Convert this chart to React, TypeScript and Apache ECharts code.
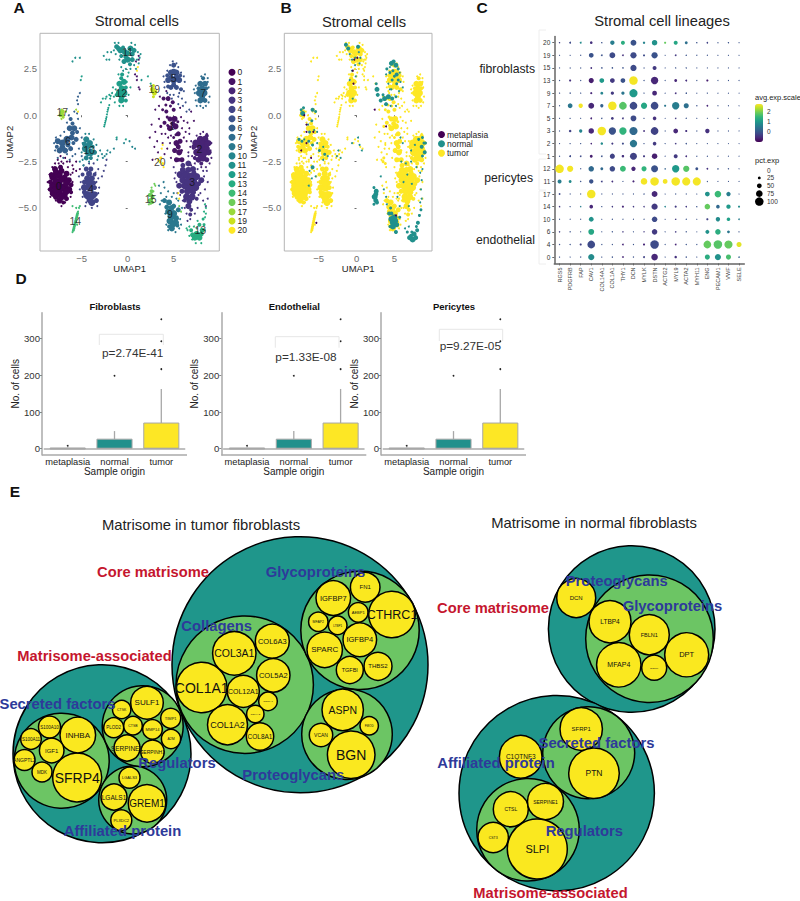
import React, { useEffect, useRef } from "react";
import * as echarts from "echarts";

type P = number[];
const FONT = "'Liberation Sans', Arial, sans-serif";

// ---------- Panels A / B: UMAP coordinates, [umap1, umap2, dotSize?]
const clusterNames = ["0","1","2","3","4","5","6","7","9","10","11","12","13","14","15","17","19","20"];
const clusterColors = ["#440154","#471365","#482475","#463480","#414487","#3B528B","#35608D","#2F6C8E","#2A788E","#25858E","#21918C","#1F9E89","#27AD81","#3EBC74","#6DCD59","#9AD93C","#CBE11E","#FDE725"];
const c0: P[] = [[-8.1,-3.3,8],[-8.1,-3.8,8],[-8.1,-4.2,7],[-7.5,-3.2,8],[-7.5,-3.7,8],[-7.5,-4.2,8],[-7.4,-4.6,6],[-6.9,-3.4,7],[-6.9,-3.9,8],[-6.9,-4.3,7],[-6.4,-3.5,6],[-6.4,-4.0,7],[-7.9,-2.9,6],[-7.3,-2.8,5],[-7.8,-3.05,6],[-7.8,-3.55,7],[-7.8,-4.0,7],[-7.8,-4.4,6],[-7.2,-3.0,6],[-7.2,-3.45,7],[-7.2,-3.95,7],[-7.2,-4.4,7],[-6.65,-3.15,6],[-6.65,-3.65,7],[-6.65,-4.1,7],[-6.65,-4.5,5],[-8.4,-3.6,5],[-8.4,-4.0,5],[-6.15,-3.75,5],[-6.15,-4.15,4],[-7.0,-4.7,4],[-8.3,-3.2,5],[-8.7,-3.6],[-8.6,-4.0],[-8.5,-3.2],[-8.4,-4.4],[-8.2,-2.8],[-7.8,-4.6],[-7.2,-4.9],[-6.8,-4.7],[-6.2,-4.4],[-6.0,-3.6],[-6.0,-3.1],[-6.5,-2.8],[-7.0,-2.6],[-7.6,-2.4],[-7.9,-2.6],[-6.8,-2.3],[-6.0,-2.7],[-5.6,-3.0],[-5.2,-2.9],[-5.6,-2.5],[-7.3,-2.2],[-6.2,-3.2],[-6.6,-2.5],[-7.2,-2.5],[-5.9,-2.9],[-7.5,-2.6],[-6.3,-2.5]];
const c1: P[] = [[3.9,0.9,4],[4.4,0.9,5],[4.9,0.7,4],[3.8,0.3,3],[4.2,0.2,4],[5.0,0.3,4],[4.6,-0.2,5],[5.1,-0.2,6],[4.0,-0.4,4],[3.6,-0.6,3],[4.6,-0.7,6],[5.2,-0.6,6],[5.5,-1.0,5],[5.0,-1.2,3],[5.3,-1.5,6],[5.7,-1.4,5],[5.1,-1.9,5],[5.6,-2.0,6],[5.3,-2.4,5],[5.9,-2.4,5],[4.15,0.55,3],[4.65,0.5,3],[4.3,-0.1,3],[4.9,-0.45,5],[4.35,-0.55,3],[5.45,-0.35,3],[5.5,-1.7,5],[5.25,-1.05,3],[5.85,-1.9,3],[5.55,-2.4,4],[3.0,0.3],[3.4,-0.2],[2.6,-0.5],[3.0,-0.9],[3.2,-1.4],[2.9,-1.7],[3.8,-1.5],[4.3,-1.8],[4.4,-1.2],[6.1,-0.3],[5.9,-0.7],[6.3,-0.9],[6.5,-0.4],[5.7,0.4],[1.3,1.4],[1.0,1.9],[1.2,1.5],[0.8,2.2],[7.2,-0.3],[6.9,0.2],[4.2,1.3],[3.5,1.0],[3.4,0.5],[3.7,-1.0],[4.1,-1.0],[4.6,-1.5],[4.7,-1.1],[3.3,-2.0],[4.0,-2.1],[4.7,-2.3],[6.1,-1.2],[6.4,-1.4],[6.7,-0.7],[5.8,-0.1],[2.4,-1.2],[2.7,-2.4],[1.2,3.2],[0.9,2.9],[1.2,3.0],[1.0,2.1]];
const c2: P[] = [[7.4,-1.5,7],[7.9,-1.3,7],[8.4,-1.3,7],[8.8,-1.5,6],[7.5,-2.0,7],[8.0,-1.8,8],[8.5,-1.8,8],[8.8,-2.0,6],[7.7,-2.4,6],[8.2,-2.3,7],[8.6,-2.4,5],[7.2,-1.7,5],[7.7,-1.6,7],[8.2,-1.55,7],[8.6,-1.55,6],[7.9,-2.1,7],[8.3,-2.05,7],[7.3,-2.3,4],[8.6,-1.1,4],[8.0,-2.6,4],[6.9,-1.4],[7.1,-1.8],[7.0,-2.2],[7.3,-2.6],[8.0,-2.8],[8.5,-2.8],[9.0,-1.9],[9.1,-1.5],[8.6,-1.0],[8.2,-0.9],[7.5,-1.1],[6.7,-1.0],[6.6,-2.0],[9.1,-2.3],[6.9,-2.7],[7.9,-1.0],[6.8,-1.7],[8.9,-2.6]];
const c3: P[] = [[6.0,-2.7,5],[6.6,-2.6,6],[7.1,-2.9,6],[5.7,-3.2,7],[6.3,-3.2,8],[6.9,-3.3,8],[7.5,-3.3,7],[8.0,-3.5,6],[5.6,-3.8,6],[6.2,-3.8,7],[6.8,-3.9,8],[7.4,-3.9,7],[6.4,-4.4,7],[7.0,-4.4,7],[6.6,-4.9,6],[7.5,-4.5,4],[6.9,-5.1,4],[6.0,-2.95,6],[6.6,-2.95,6],[6.0,-3.5,7],[6.6,-3.55,8],[7.2,-3.6,7],[5.9,-4.1,5],[6.5,-4.1,7],[7.1,-4.15,6],[6.7,-4.65,6],[6.2,-4.6,4],[7.7,-3.7,5],[6.8,-5.35,4],[7.2,-3.1,5],[5.2,-3.1],[5.3,-3.6],[5.7,-4.3],[6.0,-4.6],[6.8,-5.6],[7.6,-5.0],[7.9,-4.2],[8.3,-3.3],[8.4,-4.0],[8.6,-3.0],[8.7,-4.5],[8.5,-4.9],[5.0,-2.8],[7.6,-2.9],[6.6,-2.2],[6.2,-5.0],[5.4,-4.2],[5.1,-3.4],[8.2,-3.0],[8.2,-4.6],[7.3,-5.3],[6.4,-5.3],[8.7,-3.6],[7.7,-4.3],[6.5,-5.7]];
const c4: P[] = [[-4.5,-2.9,5],[-4.0,-2.9,5],[-4.4,-3.4,6],[-3.9,-3.4,6],[-4.7,-3.9,7],[-4.1,-3.9,8],[-3.6,-3.9,5],[-4.4,-4.3,8],[-3.8,-4.3,8],[-3.9,-4.7,7],[-3.4,-4.6,5],[-4.2,-3.15,6],[-4.7,-3.6,5],[-4.2,-3.65,7],[-3.7,-3.65,5],[-4.7,-4.15,5],[-4.1,-4.55,7],[-3.5,-4.25,5],[-4.9,-3.2,4],[-3.6,-3.2,4],[-5.1,-3.6],[-5.2,-4.0],[-4.9,-4.4],[-4.5,-4.7],[-3.9,-5.0],[-3.3,-4.9],[-3.2,-4.2],[-3.4,-3.6],[-3.5,-3.1],[-4.8,-2.7],[-3.7,-2.6],[-2.6,-3.0],[-2.4,-2.7],[-2.3,-2.4],[-2.8,-3.3],[-5.3,-3.3],[-3.2,-3.4],[-4.2,-2.6],[-3.2,-2.9],[-3.1,-3.9],[-4.6,-4.9]];
const c5: P[] = [[5.0,2.7,5],[4.7,2.3,6],[5.3,2.3,6],[4.4,1.9,6],[5.0,1.9,7],[5.6,1.9,6],[4.7,1.5,5],[5.3,1.5,5],[5.8,1.4,4],[5.0,2.35,6],[4.7,2.05,5],[5.3,2.05,6],[5.0,1.65,5],[4.3,2.15,4],[5.7,2.15,4],[4.4,1.55,4],[4.9,2.9],[5.3,2.8],[4.3,2.4],[5.8,2.3],[3.9,2.1],[6.2,1.8],[6.1,1.3],[4.0,1.5],[4.3,1.2],[5.0,1.1],[5.5,1.0],[5.9,0.9],[6.3,0.7],[5.5,0.6],[4.8,0.9],[6.7,0.3],[4.6,2.7],[5.5,2.6],[6.1,2.1],[4.0,1.8],[4.6,1.1],[5.6,1.2],[6.0,0.5],[6.4,0.2]];
const c6: P[] = [[-7.6,-1.4,6],[-7.1,-1.5,7],[-6.6,-1.3,7],[-6.1,-1.2,6],[-7.4,-1.9,6],[-6.8,-1.9,6],[-6.2,-1.8,5],[-6.3,-0.7,6],[-5.8,-0.7,6],[-6.2,-0.2,4],[-5.6,-1.3,5],[-7.1,-1.75,6],[-6.5,-1.6,5],[-5.9,-1.5,4],[-6.0,-0.95,5],[-6.0,-0.45,4],[-7.7,-1.7,4],[-5.5,-0.9,4],[-8.0,-1.5],[-7.9,-1.9],[-7.6,-2.3],[-7.0,-2.3],[-6.3,-2.4],[-7.3,-1.1],[-6.9,-0.9],[-5.4,-0.2],[-5.2,-0.7],[-5.3,-1.8],[-5.0,-2.2],[-5.7,-2.1],[-5.5,0.8],[-5.2,1.2],[-6.6,-0.4],[-5.8,0.2],[-5.5,0.1],[-6.6,-2.1],[-6.0,-2.2],[-7.8,-1.2],[-6.4,0.0],[-5.0,-1.2],[-5.4,1.0],[-5.4,0.6]];
const c7: P[] = [[8.2,2.0,4],[7.9,1.7,6],[8.4,1.7,6],[7.8,1.2,7],[8.3,1.2,7],[7.9,0.8,6],[8.4,0.8,5],[8.1,1.45,6],[8.1,1.0,6],[7.7,1.45,4],[8.55,1.45,4],[7.4,1.6],[7.3,1.2],[7.4,0.8],[8.8,1.5],[8.9,1.0],[8.7,2.0],[8.4,2.2],[8.0,2.1],[8.5,0.5],[7.9,0.5],[7.5,0.5],[7.2,1.4],[8.8,0.7],[8.2,0.4],[8.7,1.8]];
const c9: P[] = [[4.0,-4.6,5],[4.5,-4.7,6],[5.0,-4.9,5],[4.4,-5.2,6],[5.0,-5.3,7],[5.5,-5.1,5],[4.6,-5.7,7],[5.2,-5.8,7],[4.8,-6.1,6],[4.25,-4.95,5],[4.75,-5.0,6],[4.7,-5.45,7],[5.25,-5.55,6],[4.9,-5.9,6],[4.5,-6.0,4],[5.4,-5.95,4],[3.7,-4.6],[3.6,-4.2],[4.0,-3.9],[4.4,-4.1],[3.9,-3.6],[5.0,-4.2],[5.5,-4.6],[5.7,-5.6],[4.2,-5.9],[4.4,-6.2],[5.2,-6.3],[5.6,-6.1],[3.4,-3.8],[4.1,-5.3],[4.8,-4.4],[5.3,-4.5],[5.9,-5.0],[3.5,-4.8],[4.2,-4.4],[5.8,-5.9]];
const c10: P[] = [[-4.5,-1.3,6],[-4.1,-1.5,6],[-4.6,-1.8,7],[-4.0,-2.0,7],[-3.6,-2.0,5],[-4.5,-2.3,5],[-4.3,-1.65,6],[-4.3,-2.05,6],[-4.7,-1.55,5],[-3.8,-1.7,4],[-4.0,-2.3,4],[-4.9,-1.5],[-5.0,-2.0],[-4.2,-1.0],[-4.6,-1.0],[-3.4,-1.6],[-3.2,-2.2],[-2.8,-2.1],[-2.5,-2.2],[-2.2,-1.9],[-1.9,-2.0],[-1.5,-1.8],[-2.3,-2.1],[-4.8,-2.7],[-5.2,-2.5],[-4.2,-2.5],[-3.0,-1.9],[-1.2,-1.3],[0.2,-1.4],[-3.3,-2.4],[-4.9,-2.4],[-3.7,-1.3],[-2.7,-2.3],[-0.4,-1.5],[0.5,-1.7],[0.8,-1.8]];
const c11: P[] = [[-1.2,3.7,5],[-0.8,3.5,6],[-0.3,3.4,6],[0.3,3.6,6],[0.7,3.5,5],[0.0,3.0,6],[-0.4,2.9,5],[0.5,3.0,5],[-1.0,3.6,5],[-0.5,3.65,4],[0.0,3.35,5],[0.5,3.3,5],[-0.7,3.2,4],[-0.2,3.15,5],[0.25,2.75,4],[-1.4,3.9],[-1.5,3.5],[-1.0,3.9],[0.4,3.9],[0.8,3.8],[1.1,3.4],[1.4,3.3],[1.0,3.0],[-0.9,3.0],[0.3,2.5],[-0.2,2.5],[-2.6,3.2],[-2.3,3.0],[-2.0,3.0],[-1.8,3.4],[1.2,2.8],[0.9,2.5],[1.5,1.9],[-5.2,3.1],[-5.7,3.1],[-6.0,2.9],[-1.3,3.3],[-0.7,2.6],[-2.2,3.4],[1.3,3.1],[0.7,2.7],[-0.5,2.4]];
const c12: P[] = [[-0.6,2.2,4],[-0.4,1.8,6],[-0.9,1.7,6],[-0.9,1.2,7],[-0.4,1.2,7],[-0.7,0.8,6],[-0.2,0.8,4],[-0.65,1.45,6],[-0.2,1.5,4],[-0.65,1.0,6],[-0.7,2.0,4],[-1.2,1.1,4],[-0.1,1.8],[0.1,2.3],[-1.3,1.4],[-1.5,1.0],[-1.4,0.7],[0.1,1.1],[0.3,1.5],[-0.9,0.5],[-0.5,0.5],[-2.0,1.1],[-2.3,1.0],[-2.7,0.9],[-2.9,0.7],[-2.2,0.2],[-2.3,-0.1],[-2.4,-0.3],[-2.5,-0.5],[-2.1,0.4],[-1.7,1.2],[2.2,2.1],[2.5,1.7],[-5.1,1.9],[-5.0,2.1],[-1.2,-1.2],[-0.2,-1.3],[-2.4,0.9],[-2.15,0.3],[-2.25,0.05],[-2.35,-0.2],[-2.45,-0.4],[-1.0,2.2],[0.0,2.1],[-1.6,1.5],[-1.9,0.9],[-2.0,0.55],[-1.85,1.05],[-2.55,-0.6]];
const c13: P[] = [[6.9,-6.2,4],[7.3,-6.6,6],[7.8,-6.6,6],[8.1,-6.2,5],[7.8,-5.9,4],[8.2,-5.6,3],[7.5,-6.4,6],[7.05,-6.45,5],[8.0,-6.4,5],[8.3,-5.9,3],[6.5,-6.2],[6.7,-6.5],[7.0,-6.7],[8.3,-5.2],[8.4,-5.5],[8.5,-5.0],[8.4,-6.2],[7.4,-6.9],[8.0,-6.9],[7.5,-6.1],[8.4,-4.8],[6.4,-6.1],[6.7,-6.0],[7.2,-6.0],[7.6,-5.7],[8.5,-5.3]];
const c14: P[] = [[-5.3,-5.0],[-5.4,-5.2],[-5.5,-5.4,3],[-5.6,-5.6,3],[-5.7,-5.8,3],[-5.8,-6.0,3],[-5.9,-6.2,3],[-6.0,-6.3],[-6.0,-4.9],[-5.6,-5.0],[-5.5,-5.9],[-5.45,-5.3,3],[-5.55,-5.5,3],[-5.65,-5.7,3],[-5.75,-5.9,3],[-5.85,-6.1,3],[-5.2,-4.9]];
const c15: P[] = [[2.6,-3.9],[2.6,-4.1,4],[2.4,-4.3,4],[2.7,-4.4,4],[2.4,-4.6,4],[2.7,-4.7,3],[2.9,-3.7],[3.0,-3.8],[2.3,-4.8],[2.8,-4.1],[2.55,-4.3,4],[2.55,-4.55,4],[2.5,-4.75,3],[5.6,-4.9],[5.8,-5.2]];
const c17: P[] = [[-7.1,0.2,5],[-7.3,0.0,4],[-7.0,-0.1,3],[-7.2,-0.2],[-6.7,0.2],[-7.2,0.3],[-7.1,0.0,4],[-7.2,0.15,4],[-5.6,0.3]];
const c19: P[] = [[2.8,1.6,3],[2.7,1.4,5],[2.9,1.2,5],[2.8,1.0,3],[3.1,1.3],[2.8,1.3,5]];
const c20: P[] = [[3.3,-2.4],[3.6,-2.3,3],[3.8,-2.6,3],[3.7,-1.8],[3.8,-1.6],[1.1,2.6],[1.0,2.4],[5.5,-4.2],[5.6,-4.5],[-5.4,0.2],[3.5,-2.5,3],[3.9,-2.8]];
const clusterPoints: P[][] = [c0,c1,c2,c3,c4,c5,c6,c7,c9,c10,c11,c12,c13,c14,c15,c17,c19,c20];
const clusterLabels: [string, number, number][] = [["0",-7.5,-3.8],["1",4.8,-0.6],["2",7.8,-1.8],["3",7.0,-3.6],["4",-4.0,-4.0],["5",5.0,2.0],["6",-6.5,-1.4],["7",8.2,1.2],["9",4.6,-5.3],["10",-4.2,-1.9],["11",0.0,3.4],["12",-0.7,1.2],["13",7.9,-6.2],["14",-5.7,-5.7],["15",2.5,-4.5],["17",-7.1,0.15],["19",2.9,1.4],["20",3.5,-2.5]];
const originNames = ["metaplasia","normal","tumor"];
const originColors = ["#440154","#21908C","#FDE725"];
const tumorOnlyExcluded = ["13","15","19"];
const normalPoints: P[] = [[-1.4,3.8,4],[-1.1,3.6,4],[-0.9,3.3],[-0.6,3.0],[-0.2,3.1],[0.2,3.7,4],[0.3,3.4],[0.5,3.1],[-0.2,2.7],[0.4,2.8],[-0.6,2.4],[-0.1,2.1],[-0.9,1.9],[-0.5,0.9],[3.9,2.2],[4.0,2.5,3],[4.6,2.8,5],[5.2,2.7,5],[4.9,2.9,4],[4.4,2.3,3],[5.3,2.2,4],[5.7,2.3],[4.7,1.9,3],[5.3,1.7,3],[5.8,1.8],[4.2,1.7],[4.6,1.4],[5.6,1.3],[6.1,1.5],[4.8,2.4,3],[5.0,2.1,3],[4.4,2.6],[5.5,2.5,3],[5.5,1.9,3],[4.4,1.4],[3.2,0.8,4],[3.7,0.9,5],[4.2,1.0,5],[4.7,0.9,4],[5.2,1.0,3],[3.9,0.6,4],[4.5,0.5],[5.2,0.5],[3.5,1.1,3],[2.6,1.7,3],[2.7,1.4,5],[2.8,1.1,4],[-7.3,0.3,3],[-7.1,0.1,5],[-7.0,0.4,3],[-5.8,0.3,4],[-5.4,0.2,3],[-6.4,-0.5],[-5.9,-0.3,3],[-6.2,-0.9,3],[-5.6,-0.8],[-5.2,-0.9],[-7.6,-1.3,3],[-7.2,-1.4,3],[-6.9,-1.3],[-6.3,-1.4,3],[-5.8,-1.6,3],[-5.2,-1.5],[-4.9,-1.9,3],[-4.4,-1.7],[-4.2,-2.1,3],[-3.8,-2.2],[-4.4,-2.4],[-5.8,-2.8,4],[-6.2,-3.0],[-5.4,-3.3],[-5.9,-3.4],[-6.3,-3.8],[-2.6,-2.2],[-2.4,-1.9],[-2.1,-2.3],[-0.6,-1.5],[0.2,-1.2],[0.4,-1.6],[0.7,-1.9],[8.2,-1.3,3],[8.7,-1.2,3],[9.1,-1.5,3],[8.6,-1.7,4],[9.0,-2.0,4],[8.7,-2.2,3],[8.9,-1.5,3],[7.7,-1.6],[7.2,-1.9],[6.5,-2.6],[7.2,-2.5],[6.1,-1.5],[5.9,-2.5],[2.3,-3.9,3],[2.6,-4.1,5],[2.4,-4.4,6],[2.7,-4.7,4],[2.3,-4.8,3],[2.55,-4.25,5],[2.55,-4.6,5],[3.6,-4.0],[3.2,-3.3],[4.5,-5.0,3],[4.0,-4.8],[4.3,-5.3,4],[4.6,-5.6,6],[5.0,-5.5,6],[5.3,-5.9,5],[4.8,-6.0,6],[5.2,-6.3,4],[4.4,-6.0,3],[5.7,-5.5,3],[5.7,-4.9],[5.4,-4.4],[4.8,-5.8,6],[5.1,-5.7,6],[4.6,-5.3,4],[3.9,-4.4],[7.0,-6.6,5],[7.4,-6.7,6],[7.8,-6.6,5],[8.0,-6.2,4],[8.1,-5.8,4],[8.3,-5.4,3],[8.5,-5.1,3],[7.6,-6.4,5],[7.2,-6.5,4],[7.9,-6.0,3],[6.7,-6.3,3],[6.9,-6.0],[7.3,-6.3,3],[6.4,-6.1],[8.4,-3.1],[8.6,-3.5],[8.5,-4.0],[8.6,-4.5],[8.4,-4.7],[8.7,-2.9],[7.9,-2.8],[7.3,-3.7],[6.7,-3.2],[6.2,-3.6],[5.8,-1.2],[6.9,-4.9]];
const metaplasiaPoints: P[] = [[-6.9,0.0],[-6.6,-0.5],[-6.6,-0.9],[-5.7,-0.9],[-7.3,-1.9],[-6.0,-2.3],[-6.6,-1.5],[-5.3,-5.8],[-0.3,3.0],[0.1,3.1],[-0.5,2.4],[-0.4,1.7],[2.4,0.3],[3.9,-0.6],[5.2,-5.4]];

// ---------- Panel C
const dotGenes = ["RGS5","PDGFRB","FAP","CAV1","COL14A1","COL1A1","THY1","DCN","MYLK","DSTN","ACTG2","MYL9","ACTA2","MYH11","ENG","PECAM1","VWF","SELE"];
const dotClusters = ["20","19","15","13","9","7","5","3","2","1","12","11","17","14","10","6","4","0"];
const dotPct: number[][] = [
 [5,12,12,22,5,45,40,65,18,60,15,40,25,5,8,3,5,2],
 [2,2,3,50,10,65,10,70,15,70,1,10,5,3,3,2,2,1],
 [2,3,3,10,8,8,7,70,3,40,1,4,4,2,2,2,2,1],
 [3,15,3,55,50,50,50,100,4,85,2,25,12,3,15,2,2,2],
 [3,5,3,15,25,30,30,95,3,50,2,10,7,2,3,2,2,1],
 [2,50,45,65,30,100,90,90,70,90,15,85,55,5,10,2,2,1],
 [2,3,2,10,5,25,10,65,3,35,1,7,4,2,2,2,1,1],
 [2,20,30,60,100,85,85,95,10,90,2,50,15,3,45,2,2,1],
 [2,3,3,8,20,15,15,85,3,35,2,8,6,2,2,2,1,1],
 [3,12,8,25,8,55,20,80,15,60,2,40,10,3,3,2,2,1],
 [100,70,3,60,25,60,65,45,55,80,6,85,70,25,10,6,4,1],
 [40,25,5,45,10,10,2,15,75,100,50,100,95,95,3,1,1,1],
 [10,2,2,100,2,2,2,2,5,65,1,3,2,1,50,75,45,1],
 [6,3,5,35,3,7,15,7,6,70,8,15,8,4,60,35,45,15],
 [2,2,2,50,1,4,2,2,3,60,1,6,4,1,15,45,35,8],
 [5,4,2,65,2,4,5,2,4,60,2,7,4,1,40,60,25,3],
 [4,5,15,90,4,3,10,3,15,100,2,10,5,3,90,100,95,55],
 [3,2,4,70,3,5,10,4,12,75,2,20,5,2,55,70,55,8],
];
const dotExp: number[][] = [
 [-.2,-.1,.8,-.4,0,.6,1.3,0,.7,.9,1.8,1.2,.4,0,-.2,0,0,0],
 [0,0,0,0,0,-.1,-.4,-.1,-.1,0,0,-.3,0,0,0,0,0,0],
 [0,0,0,-.4,0,0,0,-.1,0,-.3,0,0,0,0,0,0,0,0],
 [0,-.4,0,-.6,1,-.3,0,2.6,0,-.5,0,-.5,-.4,0,-.6,0,0,0],
 [0,0,0,-.5,.7,-.3,.5,1,0,-.5,0,-.4,0,0,0,0,0,0],
 [0,.5,2.6,-.5,.2,2.6,1.7,-.1,1.2,-.1,.5,.6,.4,0,-.5,0,0,0],
 [0,0,0,-.5,0,-.3,-.3,-.1,0,-.4,0,-.3,0,0,0,0,0,0],
 [0,-.2,.7,-.5,2.6,0,1.4,.3,-.4,-.2,0,-.5,-.4,0,-.4,0,0,0],
 [0,0,0,-.5,.8,-.3,-.1,.5,0,-.3,0,-.3,0,0,0,0,0,0],
 [0,-.1,-.1,-.6,0,-.2,-.4,-.2,-.3,-.6,0,-.3,-.4,0,0,0,0,0],
 [2.6,2.6,0,.3,.3,-.1,1.5,-.5,1.4,0,.2,1,1.7,0,-.4,0,0,0],
 [.6,.8,0,0,-.2,-.4,0,-.5,2.6,2.6,2.6,2.6,2.6,2.6,0,0,0,0],
 [-.1,0,0,2.6,0,0,0,0,0,-.5,0,0,0,0,.9,1.5,.6,0],
 [-.3,0,.6,-.5,0,-.3,-.5,-.3,-.3,-.3,.7,-.3,-.3,0,1.8,.3,1,.8],
 [0,0,0,.9,0,0,0,0,0,-.1,0,-.3,0,0,-.2,.8,1.1,.6],
 [-.2,0,0,1.2,0,0,-.3,0,-.3,-.3,0,-.3,0,0,.9,1.3,.5,0],
 [0,0,-.2,-.1,0,0,-.5,0,-.5,-.1,0,-.5,0,0,1.8,1.7,1.8,2.5],
 [0,0,0,.8,0,0,-.5,0,-.2,-.5,0,-.4,0,0,1.3,.9,1.6,.2],
];
const viridis = ["#440154","#482878","#3E4A89","#31688E","#26828E","#1F9E89","#35B779","#6DCD59","#B4DE2C","#FDE725"];
const pctLegend = [0,25,50,75,100];

// ---------- Panel D: [low whisker, q1, median, q3, high whisker]
const sampleOrigins = ["metaplasia","normal","tumor"];
const boxColors = ["#9a9a9a","#21908C","#FDE725"];
const fibroblastBoxes = [[0,0,0,2,3],[0,1,1,26,48],[0,1,1,70,163]];
const endothelialBoxes = [[0,0,0,2,3],[0,1,1,26,48],[0,1,1,70,163]];
const pericyteBoxes = [[0,0,0,2,3],[0,1,1,26,48],[0,1,1,70,163]];
const boxOutliers = [[0,8],[1,199],[2,217],[2,293],[2,353]];
const boxTitles = ["Fibroblasts","Endothelial","Pericytes"];
const boxPvalues = ["p=2.74E-41","p=1.33E-08","p=9.27E-05"];

// ---------- Panel E: circle packs, [name, x, y, radius] on the panel's own scale
type C = [string, number, number, number];
const packOuter: C[] = [["tumor core",300,664.7,128],["tumor associated",102,753.7,89],["normal core",631.7,629,83.3],["normal associated",556.7,793.2,97.7]];
const packGroups: C[] = [["Collagens",244.7,684.7,68.7],["Glycoproteins",360,630.3,59.2],["Proteoglycans",347,734.2,45.3],["Secreted factors",61.7,760.8,47.5],["Regulators",142.7,726.3,40.5],["Affiliated protein",132.7,800,34],["Glycoproteins",649.5,638.7,63.8],["Secreted factors",588.7,752.8,46],["Regulators",528,829.8,51.3]];
const packGenes: C[] = [
 ["COL1A1",201.7,687.5,25.3],["COL3A1",234.3,653.3,21.7],["COL6A3",272.3,641.2,17],["COL5A2",273.3,675.3,16.7],["COL12A1",243.3,691.3,16],["COL5A1",268,701.3,9.3],["COL4A2",255.3,714,8.7],["COL1A2",227.5,724.7,20],["COL8A1",260,736.5,13.7],
 ["IGFBP7",333.3,598,17.3],["FN1",365.2,587.3,14.8],["CTHRC1",392,614.5,23.3],["AEBP1",358.2,612.3,9.8],["MFAP2",318.3,621.7,9.7],["LTBP1",337.7,625.3,9.3],["IGFBP4",359.8,639.8,16.8],["SPARC",324.7,649.8,17.7],["TGFBI",349.8,670,13.5],["THBS2",378,666.3,14],
 ["ASPN",342.7,709.8,20.7],["FMOD",369.2,725.8,9.2],["VCAN",321,735,11.7],["BGN",351.2,754.7,23.8],
 ["SFRP4",77.2,777.5,24.5],["INHBA",77.8,735,17.8],["IGF1",51.7,750.5,12.3],["S100A10",49.5,727,11],["S100A11",31,739,10.3],["ANGPTL2",24.5,760,10.5],["MDK",42,772,10],
 ["SULF1",147,702.7,16.3],["CTSK",121.7,709.5,9.2],["PLOD2",113.7,727.7,10],["CTSB",133,725.7,9.3],["MMP14",152.5,729.3,9.8],["TIMP1",170.7,718.3,10],["A2M",171,739,9.6],["SERPINE1",127,748,13],["SERPINH1",152.5,751.7,11.7],
 ["LGALS3",129.5,777.7,10.5],["LGALS1",114,797,13],["GREM1",147,803.3,18.7],["PLXDC2",121.3,820.3,10.5],
 ["DCN",576.2,598,19.5],["LTBP4",610,621.7,21],["FBLN1",649.3,634.7,20],["DPT",686.7,654.8,22],["MFAP4",618.8,664.8,22.2],["EFEMP1",654.2,667.7,12.5],
 ["SFRP1",581.2,729,21.2],["PTN",594,773.3,25.3],["C1QTNF3",520.7,756.8,21.3],["CTSL",510.8,809.2,17.5],["SERPINE1",545.5,801.5,18],["CST3",493.2,837.5,15.2],["SLPI",537.3,849,30],
];
const packGeneFontSizes = [14,10.5,7.5,7.5,7,2.5,2.5,9,6.5, 7.5,6,12.5,4,3.5,3,7.5,8,5.5,6, 10.5,3,5,14, 14,8,6,4.5,4.5,5,4.5, 8,3.5,4.5,3.5,4,4,3.5,6.5,5, 4,6.5,10,4, 6,6.5,5.5,7.5,7,2, 6,8.5,6.5,5,5,3.5,11];
const packTitles: [string, number, number][] = [["Matrisome in tumor fibroblasts",201,525],["Matrisome in normal fibroblasts",594,523]];
const packRedLabels: [string, number, number][] = [["Core matrisome",153,571.7],["Matrisome-associated",94.5,655.7],["Core matrisome",493,608],["Matrisome-associated",550.5,892.5]];
const packBlueLabels: [string, number, number][] = [["Secreted factors",57.5,704],["Regulators",177,762.7],["Affiliated protein",122.5,830.7],["Glycoproteins",315.5,571.7],["Collagens",216.7,625.7],["Proteoglycans",293.3,775],["Proteoglycans",616.7,580.7],["Glycoproteins",672.5,606],["Secreted factors",596.5,743.3],["Affiliated protein",496,762.7],["Regulators",584.3,830.7]];

const panelLetters: [string, number, number][] = [["A",19,7],["B",286,7],["C",482,7],["D",21,278],["E",15,491.7]];

const dotSize = (pct: number) => 1 + pct * 0.075;
const minus = (v: number) => String(v).replace("-", "\u2212");

function text(t: string, x: number, y: number, fontSize: number, fill: string, align = "center", fontWeight = "normal", rotation = 0) {
  return { type: "text", x, y, rotation, silent: true, z: 50,
    style: { text: t, fontSize, fontFamily: FONT, fontWeight, fill, align, verticalAlign: "middle", textAlign: align, textVerticalAlign: "middle" } };
}
function poly(points: number[][], stroke: string, lineWidth = 1) {
  return { type: "polyline", silent: true, z: 40, shape: { points }, style: { stroke, lineWidth, fill: "none" } };
}

function buildOption() {
  const grid: any[] = [], xAxis: any[] = [], yAxis: any[] = [], series: any[] = [], graphic: any[] = [];
  const gray = "#6e6e6e";
  const umap = (left: number, width: number, scale: number) => {
    const i = grid.length;
    grid.push({ left, top: 33.3, width, height: 217.7, show: true, borderColor: "#b5b5b5", borderWidth: 1, backgroundColor: "#fff" });
    xAxis.push({ gridIndex: i, type: "value", min: -9.53, max: 9.96, name: "UMAP1", nameLocation: "middle", nameGap: 7, nameTextStyle: { fontSize: 9.5, color: "#222" },
      axisLine: { show: false }, splitLine: { show: false }, axisTick: { length: 2, lineStyle: { color: gray }, customValues: [-5, 0, 5] },
      axisLabel: { fontSize: 9.5, color: gray, margin: 2, customValues: [-5, 0, 5], formatter: minus } });
    yAxis.push({ gridIndex: i, type: "value", min: -7.32, max: 4.42, name: "UMAP2", nameLocation: "middle", nameGap: 15, nameTextStyle: { fontSize: 9.5, color: "#222" },
      axisLine: { show: false }, splitLine: { show: false }, axisTick: { length: 2, lineStyle: { color: gray }, customValues: [-5, -2.5, 0, 2.5] },
      axisLabel: { fontSize: 9.5, color: gray, margin: 3, customValues: [-5, -2.5, 0, 2.5], formatter: (v: number) => minus(v).replace(/^(\u2212?\d)$/, "$1.0") } });
    return { i, size: (v: P) => (v[2] || 2) * scale };
  };

  // A
  const a = umap(40, 179.3, 1);
  clusterPoints.forEach((pts, k) => series.push({ type: "scatter", name: clusterNames[k], xAxisIndex: a.i, yAxisIndex: a.i, data: pts, symbolSize: a.size, itemStyle: { color: clusterColors[k], opacity: 1 }, silent: true }));
  series.push({ type: "scatter", name: "cluster labels", xAxisIndex: a.i, yAxisIndex: a.i, symbolSize: 0, silent: true, z: 6,
    data: clusterLabels.map(([n, x, y]) => ({ name: n, value: [x, y] })),
    label: { show: true, position: "inside", formatter: "{b}", fontSize: 10.5, color: "#111", fontFamily: FONT } });

  // B
  const b = umap(284.3, 147.7, 1);
  const tumorPoints = clusterPoints.filter((_, k) => !tumorOnlyExcluded.includes(clusterNames[k])).flat();
  series.push({ type: "scatter", name: "tumor", xAxisIndex: b.i, yAxisIndex: b.i, data: tumorPoints, symbolSize: b.size, itemStyle: { color: originColors[2], opacity: 1 }, silent: true });
  series.push({ type: "scatter", name: "normal", xAxisIndex: b.i, yAxisIndex: b.i, data: normalPoints, symbolSize: b.size, itemStyle: { color: originColors[1], opacity: 1 }, silent: true });
  series.push({ type: "scatter", name: "metaplasia", xAxisIndex: b.i, yAxisIndex: b.i, data: metaplasiaPoints, symbolSize: b.size, itemStyle: { color: originColors[0], opacity: 1 }, silent: true });

  // C
  const ci = grid.length;
  grid.push({ left: 554.3, top: 36.4, width: 190, height: 227 });
  const darkAxis = { show: true, lineStyle: { color: "#666", width: 1.5 } };
  xAxis.push({ gridIndex: ci, type: "category", data: dotGenes, axisLine: darkAxis, axisTick: { show: true, length: 2, alignWithLabel: true, lineStyle: { color: "#666" } },
    axisLabel: { rotate: 90, fontSize: 5.5, color: "#444", margin: 4, interval: 0 }, splitLine: { show: false } });
  yAxis.push({ gridIndex: ci, type: "category", inverse: true, data: dotClusters, axisLine: darkAxis, axisTick: { show: true, length: 2, alignWithLabel: true, lineStyle: { color: "#666" } },
    axisLabel: { fontSize: 6.5, color: "#333", margin: 4, interval: 0 }, splitLine: { show: false } });
  const dotData: number[][] = [];
  dotClusters.forEach((_, r) => dotGenes.forEach((_, c) => dotData.push([c, r, dotPct[r][c], dotExp[r][c]])));
  const dotIndex = series.length;
  series.push({ type: "scatter", name: "dots", xAxisIndex: ci, yAxisIndex: ci, data: dotData, symbolSize: (v: number[]) => dotSize(v[2]), itemStyle: { opacity: 1 }, silent: true });

  // D
  const boxSets = [fibroblastBoxes, endothelialBoxes, pericyteBoxes];
  const boxLefts = [42, 221.3, 381];
  const boxW = 145;
  const inset = 2.3;
  boxSets.forEach((boxes, k) => {
    const i = grid.length;
    const l = boxLefts[k];
    grid.push({ left: l + inset, top: 312.7, width: boxW - 2 * inset, height: 142.3 });
    xAxis.push({ gridIndex: i, type: "category", data: sampleOrigins, name: "Sample origin", nameLocation: "middle", nameGap: 11, nameTextStyle: { fontSize: 10, color: "#222" },
      axisLine: { show: true, lineStyle: { color: "#aaa", width: 1.5 } }, axisTick: { show: false }, axisLabel: { fontSize: 9.3, color: "#222", margin: 2, interval: 0 }, splitLine: { show: false } });
    yAxis.push({ gridIndex: i, type: "value", min: -17.2, max: 371, offset: inset, name: "No. of cells", nameLocation: "middle", nameGap: 13, nameTextStyle: { fontSize: 10, color: "#222" },
      axisLine: { show: true, lineStyle: { color: "#aaa", width: 1.5 } }, axisTick: { show: true, length: 2, lineStyle: { color: "#888" }, customValues: [0, 100, 200, 300] },
      axisLabel: { fontSize: 9.6, color: "#333", margin: 2, customValues: [0, 100, 200, 300] }, splitLine: { show: false } });
    series.push({ type: "custom", name: boxTitles[k], xAxisIndex: i, yAxisIndex: i, silent: true, encode: { x: 0, y: [1, 2, 3, 4, 5] },
      data: boxes.map((b, c) => [c, ...b]),
      renderItem: (_: any, api: any) => {
        const c = api.value(0);
        const w = api.size([1, 0])[0] * 0.75;
        const px = api.coord([c, 0])[0];
        const yy = [1, 2, 3, 4, 5].map((d) => api.coord([c, api.value(d)])[1]);
        const edge = "#a8a8a8";
        return { type: "group", children: [
          { type: "line", shape: { x1: px, y1: yy[4], x2: px, y2: yy[3] }, style: { stroke: edge, lineWidth: 1.3 } },
          { type: "rect", shape: { x: px - w / 2, y: yy[3], width: w, height: Math.max(yy[1] - yy[3], 1) }, style: { fill: boxColors[c], stroke: edge, lineWidth: 1 } },
          { type: "line", shape: { x1: px - w / 2, y1: yy[2], x2: px + w / 2, y2: yy[2] }, style: { stroke: edge, lineWidth: 1 } },
        ] };
      } });
    series.push({ type: "scatter", name: boxTitles[k] + " outliers", xAxisIndex: i, yAxisIndex: i, data: boxOutliers, symbolSize: 1.8, itemStyle: { color: "#222", opacity: 1 }, silent: true });
    graphic.push(poly([[l, 455], [l + boxW, 455]], "#aaa", 1.5));
    graphic.push(text(boxTitles[k], l + boxW / 2 + 0.5, 306, 9.5, "#111", "center", "bold"));
  });
  const brackets = [[99.3, 163.3, 334.3, 345], [275.3, 339, 336.7, 347.7], [439.3, 502.7, 329.3, 341]];
  brackets.forEach(([x1, x2, yt, yb]) => graphic.push(poly([[x1, yb], [x1, yt], [x2, yt], [x2, yb]], "#e6e6e6")));
  [[132.7, 353], [306, 356.7], [470.3, 346.3]].forEach(([x, y], k) => graphic.push(text(boxPvalues[k], x, y, 11.8, "#333")));

  // E
  const ei = grid.length;
  grid.push({ left: 0, top: 0, width: 800, height: 901 });
  xAxis.push({ gridIndex: ei, type: "value", min: 0, max: 800, show: false });
  yAxis.push({ gridIndex: ei, type: "value", min: 0, max: 901, inverse: true, show: false });
  const packSeries = (name: string, rows: C[], color: string, z: number, sizes?: number[]) => series.push({
    type: "scatter", name, xAxisIndex: ei, yAxisIndex: ei, silent: true, z, clip: false,
    itemStyle: { color, borderColor: "#000", borderWidth: 1.5, opacity: 1 },
    symbolSize: (v: number[]) => v[2] * 2,
    data: rows.map(([n, x, y, r], k) => ({ name: n, value: [x, y, r],
      label: sizes ? { show: true, position: "inside", formatter: "{b}", fontSize: sizes[k], color: "#111", fontFamily: FONT } : { show: false } })),
  });
  packSeries("matrisome", packOuter, "#1F968B", 3);
  packSeries("divisions", packGroups, "#6CC564", 4);
  packSeries("genes", packGenes, "#FAE81F", 5, packGeneFontSizes);
  packTitles.forEach(([t, x, y]) => graphic.push(text(t, x, y, 14.8, "#222")));
  packRedLabels.forEach(([t, x, y]) => graphic.push(text(t, x, y, 14.7, "#C5162E", "center", "bold")));
  packBlueLabels.forEach(([t, x, y]) => graphic.push(text(t, x, y, 14.8, "#2E3A9A", "center", "bold")));

  // labels and legends drawn as text
  panelLetters.forEach(([t, x, y]) => graphic.push(text(t, x, y, 15.5, "#111", "center", "bold")));
  [["fibroblasts", 535, 69], ["pericytes", 533, 178], ["endothelial", 535, 240]].forEach(([t, x, y]) => graphic.push(text(t as string, x as number, y as number, 12.2, "#222", "right")));
  [[30, 154], [159, 190], [191, 264]].forEach(([t, e]) => graphic.push(poly([[546, t], [539, t], [539, e], [546, e]], "#eeeeee")));
  graphic.push(text("avg.exp.scale", 755, 97, 7.5, "#222", "left"));
  [[2, 111], [1, 121.3], [0, 131.7]].forEach(([v, y]) => graphic.push(text(String(v), 767, y, 6.5, "#333", "left")));
  graphic.push(text("pct.exp", 755, 160, 7.5, "#222", "left"));
  pctLegend.forEach((p, k) => {
    const y = 170 + k * 7.9;
    graphic.push({ type: "circle", silent: true, z: 40, shape: { cx: 759.3, cy: y, r: dotSize(p) / 2 }, style: { fill: "#000" } });
    graphic.push(text(String(p), 767, y, 6.5, "#333", "left"));
  });

  const titleStyle = { fontSize: 14.7, fontWeight: "normal", color: "#222", fontFamily: FONT };
  return {
    animation: false,
    backgroundColor: "#fff",
    textStyle: { fontFamily: FONT },
    title: [
      { text: "Stromal cells", left: 131.7, top: 8, textAlign: "center", textStyle: titleStyle },
      { text: "Stromal cells", left: 359, top: 9, textAlign: "center", textStyle: titleStyle },
      { text: "Stromal cell lineages", left: 657, top: 8, textAlign: "center", textStyle: titleStyle },
    ],
    legend: [
      { data: clusterNames, orient: "vertical", left: 228.5, top: 67.7, itemWidth: 7, itemHeight: 7, itemGap: 0.3, icon: "circle", selectedMode: false, padding: 0,
        textStyle: { fontSize: 8.5, color: "#222", padding: [0, 0, 0, -3], lineHeight: 8, fontFamily: FONT } },
      { data: originNames, orient: "vertical", left: 438, top: 130, itemWidth: 7, itemHeight: 7, itemGap: 0.3, icon: "circle", selectedMode: false, padding: 0,
        textStyle: { fontSize: 8.5, color: "#222", padding: [0, 0, 0, -3], lineHeight: 8, fontFamily: FONT } },
    ],
    visualMap: [{ type: "continuous", min: -0.9, max: 2.65, dimension: 3, seriesIndex: dotIndex, left: 755, top: 104, itemWidth: 8, itemHeight: 38, calculable: false, hoverLink: false, realtime: false, padding: 0, text: ["", ""], inRange: { color: viridis } }],
    grid, xAxis, yAxis, series, graphic,
  };
}

export default function App() {
  const ref = useRef<HTMLDivElement>(null);
  useEffect(() => {
    const chart = echarts.init(ref.current!, undefined, { renderer: "svg" });
    chart.setOption(buildOption() as any);
    return () => chart.dispose();
  }, []);
  return <div ref={ref} style={{ position: "absolute", left: 0, top: 0, width: 800, height: 901 }} />;
}
